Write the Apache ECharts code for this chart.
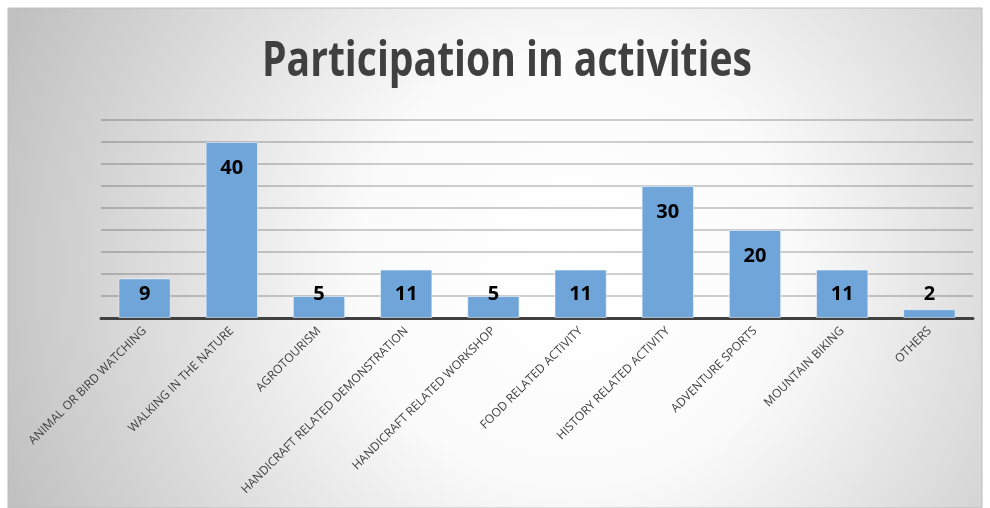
<!DOCTYPE html>
<html>
<head>
<meta charset="utf-8">
<script src="https://cdn.jsdelivr.net/npm/echarts@6/dist/echarts.min.js"></script>
<style>
html,body{margin:0;padding:0;background:#fff;}
#c{width:990px;height:508px;}
</style>
</head>
<body>
<div id="c"></div>
<script>
const titleText = 'Participation in activities';
const categories = ['ANIMAL OR BIRD WATCHING','WALKING IN THE NATURE','AGROTOURISM','HANDICRAFT RELATED DEMONSTRATION','HANDICRAFT RELATED WORKSHOP','FOOD RELATED ACTIVITY','HISTORY RELATED ACTIVITY','ADVENTURE SPORTS','MOUNTAIN BIKING','OTHERS'];
const values = [9, 40, 5, 11, 5, 11, 30, 20, 11, 2];
const yMin = 0, yMax = 45, yInterval = 5;

const grid = {left: 101, right: 17, top: 120, bottom: 190};
const plotH = 508 - grid.top - grid.bottom;

// fit the title into the width of the reference
const ctx = document.createElement('canvas').getContext('2d');
const titleFont = 'bold 48px "Open Sans"';
ctx.font = titleFont;
const titleW = ctx.measureText(titleText).width;
const titleScale = 490 / titleW;

const chart = echarts.init(document.getElementById('c'), null, {renderer: 'canvas'});

const data = values.map(v => {
  const h = v / yMax * plotH;
  const top = h > 53;
  return {
    value: v,
    label: top ? {position: 'insideTop', distance: 16} : {position: 'insideBottom', distance: 14}
  };
});

chart.setOption({
  backgroundColor: '#ffffff',
  animation: false,
  graphic: [
    {
      type: 'rect', z: -10, silent: true,
      shape: {x: 8, y: 8, width: 974, height: 500},
      style: {
        fill: {type: 'radial', x: 0.58, y: 0.52, r: 1.22, colorStops: [
          {offset: 0, color: '#ffffff'},
          {offset: 0.35, color: '#fbfbfb'},
          {offset: 1, color: '#c0c0c0'}
        ]},
        stroke: '#bdbdbd', lineWidth: 1
      }
    },
    {
      type: 'text', z: 10, silent: true,
      x: 507, y: 62, scaleX: titleScale,
      style: {
        text: titleText, x: 0, y: 0,
        font: titleFont, fill: '#404040',
        textAlign: 'center', textVerticalAlign: 'middle'
      }
    }
  ],
  grid: grid,
  xAxis: {
    type: 'category',
    data: categories,
    axisLine: {lineStyle: {color: '#404040', width: 3}},
    axisTick: {show: false},
    axisLabel: {
      rotate: 45, interval: 0, margin: 11,
      fontFamily: '"Open Sans"', fontSize: 12, color: '#404040'
    }
  },
  yAxis: {
    type: 'value', min: yMin, max: yMax, interval: yInterval,
    axisLabel: {show: false},
    axisLine: {show: false},
    axisTick: {show: false},
    splitLine: {lineStyle: {color: 'rgba(0,0,0,0.25)', width: 1.5}}
  },
  series: [{
    type: 'bar',
    data: data,
    barWidth: '60%',
    itemStyle: {color: '#6fa5d8', borderColor: 'rgba(255,255,255,0.5)', borderWidth: 1},
    label: {
      show: true,
      fontFamily: '"Open Sans"', fontWeight: 'bold', fontSize: 20, color: '#000'
    }
  }]
});
</script>
</body>
</html>
